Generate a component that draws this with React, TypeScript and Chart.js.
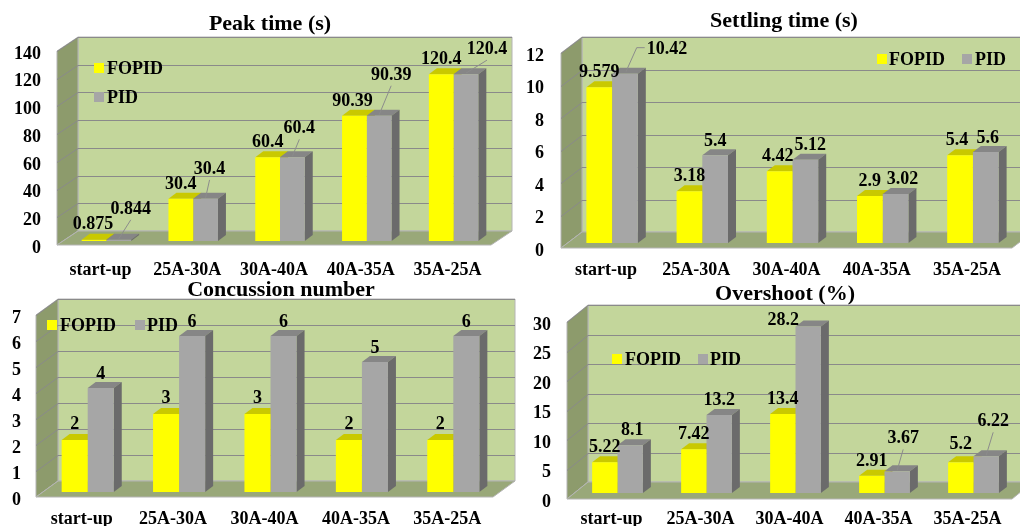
import React, { useEffect, useRef } from 'react';
import { Chart, registerables } from 'chart.js';

Chart.register(...registerables);

// Categories shared by the four panels
const CATEGORIES = ['start-up', '25A-30A', '30A-40A', '40A-35A', '35A-25A'];
const SERIES = ['FOPID', 'PID'];

// Peak time (s)
const PEAK_FOPID = [0.875, 30.4, 60.4, 90.39, 120.4];
const PEAK_PID = [0.844, 30.4, 60.4, 90.39, 120.4];
const PEAK_TICKS = [0, 20, 40, 60, 80, 100, 120, 140];

// Settling time (s)
const SETTLING_FOPID = [9.579, 3.18, 4.42, 2.9, 5.4];
const SETTLING_PID = [10.42, 5.4, 5.12, 3.02, 5.6];
const SETTLING_TICKS = [0, 2, 4, 6, 8, 10, 12];

// Concussion number
const CONCUSSION_FOPID = [2, 3, 3, 2, 2];
const CONCUSSION_PID = [4, 6, 6, 5, 6];
const CONCUSSION_TICKS = [0, 1, 2, 3, 4, 5, 6, 7];

// Overshoot (%)
const OVERSHOOT_FOPID = [5.22, 7.42, 13.4, 2.91, 5.2];
const OVERSHOOT_PID = [8.1, 13.2, 28.2, 3.67, 6.22];
const OVERSHOOT_TICKS = [0, 5, 10, 15, 20, 25, 30];

// ---- styling ----
const FONT_FAMILY = '"Liberation Serif", "Times New Roman", serif';
const FACES = [
  { front: '#ffff00', top: '#c9c900', side: '#a3a300' },
  { front: '#a6a6a6', top: '#868686', side: '#6b6b6b' },
];
const BACK_WALL = '#c3d69b';
const SIDE_WALL = '#8d9b6c';
const FLOOR = '#99a879';
const GRID = '#8a8a8a';
const EDGE = '#b4b4b4';
const LEADER = '#8c8c8c';
const BAR_DEPTH = [8, -6];

type Panel = {
  title: string;
  fopid: number[];
  pid: number[];
  ticks: number[];
  box: { left: number; top: number; width: number; height: number };
  area: { left: number; right: number; top: number; bottom: number };
  depth: number[];
  barShift: number[];
  xPad: number;
  yPad: number;
  titlePos: number[];
  legend: number[][];
  labelShift: number[][][];
  leaders: (string | null)[][];
};

const NONE5 = [null, null, null, null, null];

const PANELS: Panel[] = [
  {
    title: 'Peak time (s)',
    fopid: PEAK_FOPID,
    pid: PEAK_PID,
    ticks: PEAK_TICKS,
    box: { left: 0, top: 0, width: 516, height: 280 },
    area: { left: 57, right: 491, top: 51, bottom: 245 },
    depth: [21, -14],
    barShift: [6, -4],
    xPad: 15,
    yPad: 16,
    titlePos: [270, 30],
    legend: [[94, 74, 107], [94, 103, 107]],
    labelShift: [
      [[-1, -1], [0, 0], [0, 0], [-2, 0], [0, 0]],
      [[12, -16], [4, -15], [7, -14], [12, -26], [21, -10]],
    ],
    leaders: [NONE5, ['line', 'line', 'line', 'line', 'line']],
  },
  {
    title: 'Settling time (s)',
    fopid: SETTLING_FOPID,
    pid: SETTLING_PID,
    ticks: SETTLING_TICKS,
    box: { left: 510, top: 0, width: 510, height: 280 },
    area: { left: 51, right: 502, top: 53, bottom: 248 },
    depth: [21, -16],
    barShift: [6, -5],
    xPad: 12,
    yPad: 17,
    titlePos: [274, 27],
    legend: [[367, 65, 379], [452, 65, 465]],
    labelShift: [
      [[0, 0], [0, 0], [-2, 0], [0, 0], [-3, 0]],
      [[42, -10], [0, 1], [5, 0], [7, 0], [2, 1]],
    ],
    leaders: [NONE5, ['elbow', null, null, null, null]],
  },
  {
    title: 'Concussion number',
    fopid: CONCUSSION_FOPID,
    pid: CONCUSSION_PID,
    ticks: CONCUSSION_TICKS,
    box: { left: 0, top: 270, width: 516, height: 256 },
    area: { left: 36, right: 493, top: 45, bottom: 227 },
    depth: [22, -16],
    barShift: [6, -5],
    xPad: 12,
    yPad: 15,
    titlePos: [281, 26],
    legend: [[47, 61, 60], [135, 61, 147]],
    labelShift: [
      [[0, -1], [0, -1], [0, -1], [0, -1], [0, -1]],
      [[0, 1], [0, 1], [0, 1], [0, 1], [0, 1]],
    ],
    leaders: [NONE5, NONE5],
  },
  {
    title: 'Overshoot (%)',
    fopid: OVERSHOOT_FOPID,
    pid: OVERSHOOT_PID,
    ticks: OVERSHOOT_TICKS,
    box: { left: 510, top: 270, width: 510, height: 256 },
    area: { left: 57, right: 502, top: 52, bottom: 229 },
    depth: [21, -17],
    barShift: [6, -6],
    xPad: 10,
    yPad: 16,
    titlePos: [275, 30],
    legend: [[102, 95, 115], [188, 95, 200]],
    labelShift: [
      [[0, 0], [0, 0], [0, 0], [0, 0], [0, -3]],
      [[2, 0], [0, 0], [-25, 8], [6, -18], [7, -20]],
    ],
    leaders: [NONE5, [null, null, null, 'line', 'line']],
  },
];

function fillPoly(ctx: CanvasRenderingContext2D, pts: number[][], color: string, stroke?: string) {
  ctx.beginPath();
  ctx.moveTo(pts[0][0], pts[0][1]);
  for (let i = 1; i < pts.length; i++) ctx.lineTo(pts[i][0], pts[i][1]);
  ctx.closePath();
  ctx.fillStyle = color;
  ctx.fill();
  if (stroke) {
    ctx.strokeStyle = stroke;
    ctx.lineWidth = 1;
    ctx.stroke();
  }
}

// Draws the walls, floor, bar depth faces, value labels, legend and title
function depthPlugin(p: Panel) {
  const [sx, sy] = p.barShift;
  const [bx, by] = BAR_DEPTH;
  return {
    id: 'depth3d',
    beforeDatasetsDraw(chart: any) {
      const ctx: CanvasRenderingContext2D = chart.ctx;
      const { left: L, right: R, top: T, bottom: B } = chart.chartArea;
      const [dx, dy] = p.depth;
      ctx.save();
      fillPoly(ctx, [[L + dx, T + dy], [R + dx, T + dy], [R + dx, B + dy], [L + dx, B + dy]], BACK_WALL, EDGE);
      fillPoly(ctx, [[L, T], [L + dx, T + dy], [L + dx, B + dy], [L, B]], SIDE_WALL, EDGE);
      fillPoly(ctx, [[L, B], [R, B], [R + dx, B + dy], [L + dx, B + dy]], FLOOR, EDGE);

      const yScale = chart.scales.y;
      ctx.strokeStyle = GRID;
      ctx.lineWidth = 1;
      yScale.ticks.forEach((t: any) => {
        if (t.value === 0) return;
        const y = Math.round(yScale.getPixelForValue(t.value)) + 0.5;
        ctx.beginPath();
        ctx.moveTo(L, y);
        ctx.lineTo(L + dx, y + dy);
        ctx.lineTo(R + dx, y + dy);
        ctx.stroke();
      });

      // top and side faces of every bar, behind the front faces
      chart.data.datasets.forEach((_ds: any, di: number) => {
        const meta = chart.getDatasetMeta(di);
        meta.data.forEach((el: any) => {
          const { x, y, base, width } = el.getProps(['x', 'y', 'base', 'width'], true);
          const l = x - width / 2 + sx;
          const r = x + width / 2 + sx;
          const t = y + sy;
          const b = base + sy;
          fillPoly(ctx, [[l, t], [r, t], [r + bx, t + by], [l + bx, t + by]], FACES[di].top);
          fillPoly(ctx, [[r, t], [r + bx, t + by], [r + bx, b + by], [r, b]], FACES[di].side);
        });
      });
      ctx.restore();
    },
    beforeDatasetDraw(chart: any) {
      chart.ctx.save();
      chart.ctx.translate(sx, sy);
    },
    afterDatasetDraw(chart: any) {
      chart.ctx.restore();
    },
    afterDraw(chart: any) {
      const ctx: CanvasRenderingContext2D = chart.ctx;
      ctx.save();
      ctx.font = `bold 18px ${FONT_FAMILY}`;
      ctx.textBaseline = 'alphabetic';

      // value labels
      ctx.textAlign = 'center';
      chart.data.datasets.forEach((ds: any, di: number) => {
        const meta = chart.getDatasetMeta(di);
        meta.data.forEach((el: any, i: number) => {
          const { x, y } = el.getProps(['x', 'y'], true);
          const cx = x + sx;
          const top = y + sy;
          const [ox, oy] = p.labelShift[di][i];
          const lx = cx + ox;
          const ly = top - 16 + oy;
          const text = String(ds.data[i]);
          const leader = p.leaders[di][i];
          ctx.strokeStyle = LEADER;
          ctx.lineWidth = 1;
          if (leader === 'line') {
            ctx.beginPath();
            ctx.moveTo(lx, ly + 12);
            ctx.lineTo(cx, top - 1);
            ctx.stroke();
          } else if (leader === 'elbow') {
            const hw = ctx.measureText(text).width / 2;
            ctx.beginPath();
            ctx.moveTo(lx - hw - 2, ly);
            ctx.lineTo(lx - hw - 10, ly);
            ctx.lineTo(cx + 1, top - 2);
            ctx.stroke();
          }
          ctx.fillStyle = '#000';
          ctx.fillText(text, lx, ly + 6);
        });
      });

      // legend
      ctx.textAlign = 'left';
      chart.data.datasets.forEach((ds: any, di: number) => {
        const [qx, base, tx] = p.legend[di];
        ctx.fillStyle = FACES[di].front;
        ctx.fillRect(qx, base - 11, 10, 10);
        ctx.fillStyle = '#000';
        ctx.fillText(ds.label, tx, base);
      });

      // title
      ctx.font = `bold 22px ${FONT_FAMILY}`;
      ctx.textAlign = 'center';
      ctx.fillStyle = '#000';
      ctx.fillText(p.title, p.titlePos[0], p.titlePos[1]);
      ctx.restore();
    },
  };
}

function buildConfig(p: Panel): any {
  const tickFont = { family: FONT_FAMILY, size: 18, weight: 'bold' };
  return {
    type: 'bar',
    data: {
      labels: CATEGORIES,
      datasets: [
        { label: SERIES[0], data: p.fopid, backgroundColor: FACES[0].front, borderWidth: 0, clip: false },
        { label: SERIES[1], data: p.pid, backgroundColor: FACES[1].front, borderWidth: 0, clip: false },
      ],
    },
    options: {
      animation: false,
      responsive: false,
      devicePixelRatio: 1,
      layout: {
        padding: { left: 0, top: p.area.top, right: p.box.width - p.area.right, bottom: 0 },
      },
      datasets: { bar: { categoryPercentage: 0.57, barPercentage: 1 } },
      scales: {
        x: {
          offset: true,
          grid: { display: false, drawTicks: false },
          border: { display: false },
          ticks: { color: '#000', font: tickFont, padding: p.xPad, maxRotation: 0, autoSkip: false },
          afterFit: (axis: any) => {
            axis.height = p.box.height - p.area.bottom;
          },
        },
        y: {
          min: p.ticks[0],
          max: p.ticks[p.ticks.length - 1],
          grid: { display: false, drawTicks: false },
          border: { display: false },
          ticks: { color: '#000', font: tickFont, padding: p.yPad, labelOffset: 3 },
          afterBuildTicks: (axis: any) => {
            axis.ticks = p.ticks.map((v) => ({ value: v }));
          },
          afterFit: (axis: any) => {
            axis.width = p.area.left;
          },
        },
      },
      plugins: {
        legend: { display: false },
        title: { display: false },
        tooltip: { enabled: false },
      },
    },
    plugins: [depthPlugin(p)],
  };
}

function PanelChart({ spec }: { spec: Panel }) {
  const ref = useRef<HTMLCanvasElement>(null);
  useEffect(() => {
    const chart = new Chart(ref.current as HTMLCanvasElement, buildConfig(spec));
    return () => chart.destroy();
  }, [spec]);
  const { left, top, width, height } = spec.box;
  return (
    <canvas
      ref={ref}
      width={width}
      height={height}
      style={{ position: 'absolute', left, top, width, height }}
    />
  );
}

export default function App() {
  return (
    <div
      style={{
        position: 'fixed',
        left: 0,
        top: 0,
        width: 1020,
        height: 526,
        background: '#ffffff',
        overflow: 'hidden',
      }}
    >
      {PANELS.map((p) => (
        <PanelChart key={p.title} spec={p} />
      ))}
    </div>
  );
}
